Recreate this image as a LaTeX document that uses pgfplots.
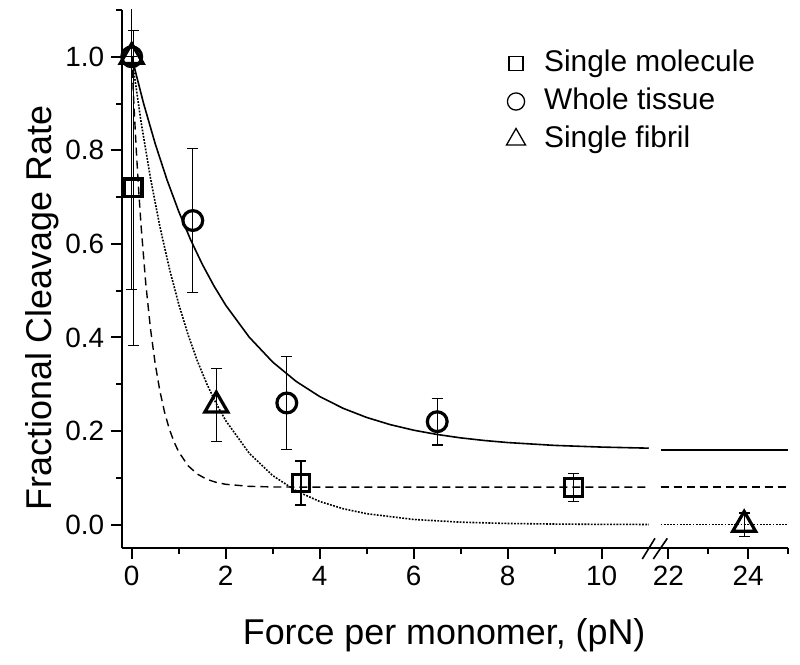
\documentclass[border=0pt]{standalone}
\usepackage{fontspec}
\setmainfont{Liberation Sans}
\usepackage{pgfplots}
\pgfplotsset{compat=1.18}
\usepackage{pgfplotstable}

\pgfplotstableread{
x y e
0.034 0.72 0.337
3.6 0.089 0.047
9.4 0.079 0.030
}\sqdata

\pgfplotstableread{
x y e
0 1.0 0.497
1.3 0.65 0.154
3.3 0.26 0.10
6.5 0.22 0.05
}\circdata

\pgfplotstableread{
x y e
0 1.0 0
1.8 0.255 0.078
}\tridataA

\pgfplotstableread{
x y e
23.9 0.0 0.025
}\tridataB

\pgfplotsset{
  basestyle/.style={
    scale only axis, height=269bp,
    ymin=-0.05, ymax=1.1,
    axis line style={line width=1bp},
    every tick/.style={line width=1bp, black},
    tick align=outside,
    major tick length=5.5bp, minor tick length=3bp,
    tick label style={font=\fontsize{14}{16}\selectfont},
    /pgf/number format/assume math mode=true,
    clip mode=individual,
  },
  errstyle/.style={
    only marks,
    error bars/y dir=both, error bars/y explicit,
    error bars/error bar style={line width=0.6bp, black},
    error bars/error mark options={rotate=90, mark size=2.75bp, line width=0.6bp, black},
  },
  sq/.style={mark=square, mark size=4.4bp, mark options={line width=1.6bp, fill=white, black}},
  ci/.style={mark=o, mark size=4.95bp, mark options={line width=1.6bp, fill=white, black}},
  tr/.style={mark=triangle, mark size=6.6bp, mark options={line width=1.6bp, fill=white, black}},
  fitsolid/.style={no marks, black, line width=0.8bp},
  fitdash/.style={no marks, black, line width=0.7bp, dash pattern=on 4bp off 2.5bp},
  fitdot/.style={no marks, black, line width=0.8bp, dash pattern=on 0.9bp off 0.7bp},
}

\begin{document}
\begin{tikzpicture}
\begin{axis}[
  basestyle, name=a1,
  width=269.1bp,
  xmin=-0.2, xmax=11.25,
  axis x line*=bottom, axis y line*=left,
  xtick={0,2,4,6,8,10},
  minor xtick={1,3,5,7,9},
  ytick={0,0.2,0.4,0.6,0.8,1.0},
  minor ytick={0.1,0.3,0.5,0.7,0.9,1.1},
  yticklabel style={/pgf/number format/fixed, /pgf/number format/fixed zerofill, /pgf/number format/precision=1},
  xlabel={Force per monomer, (pN)},
  ylabel={Fractional Cleavage Rate},
  label style={font=\fontsize{18}{21}\selectfont},
  xlabel style={at={(axis description cs:0.598,-0.162)}, anchor=center},
  ylabel style={at={(axis description cs:-0.149,0.446)}, anchor=center},
  legend style={draw=none, fill=none, at={(0.702,0.936)}, anchor=north west,
    font=\fontsize{15}{18}\selectfont,
    nodes={inner sep=0pt, text height=11.2bp, text depth=3.5bp},
    row sep=4.3bp},
  legend cell align=left,
  /tikz/every odd column/.append style={column sep=9.3bp},
]
\addlegendimage{only marks, mark=square, mark size=3.5bp, mark options={line width=0.65bp, black}}
\addlegendentry{Single molecule}
\addlegendimage{only marks, mark=o, mark size=4.3bp, mark options={line width=0.65bp, black}}
\addlegendentry{Whole tissue}
\addlegendimage{only marks, mark=triangle, mark size=5.5bp, mark options={line width=0.65bp, black}}
\addlegendentry{Single fibril}

\addplot[errstyle, sq, forget plot] table[x=x, y=y, y error=e] {\sqdata};
\addplot[errstyle, ci, forget plot] table[x=x, y=y, y error=e] {\circdata};
\addplot[errstyle, tr, forget plot] table[x=x, y=y, y error=e] {\tridataA};

% whole tissue fit
\addplot[fitsolid, forget plot] coordinates {
(0,1.0) (0.25,0.9013) (0.5,0.8142) (0.75,0.7373) (1.0,0.6695) (1.25,0.6096)
(1.5,0.5568) (1.75,0.5102) (2.0,0.469) (2.5,0.4007) (3.0,0.3474) (3.5,0.306)
(4.0,0.2737) (4.5,0.2485) (5.0,0.229) (5.5,0.2137) (6.0,0.2018) (6.5,0.1926)
(7.0,0.1854) (7.5,0.1798) (8.0,0.1754) (9.0,0.1693) (10.0,0.1657) (11.0,0.1634)
};
% single molecule fit
\addplot[fitdash, forget plot] coordinates {
(0,1.0) (0.05,0.8919) (0.1,0.7965) (0.15,0.7124) (0.2,0.638) (0.3,0.5146) (0.4,0.4184)
(0.5,0.3436) (0.6,0.2853) (0.7,0.2399) (0.8,0.2045) (0.9,0.177) (1.0,0.1555)
(1.2,0.1258) (1.4,0.1078) (1.6,0.0968) (1.8,0.0902) (2.0,0.0862) (2.5,0.0818)
(3.0,0.0805) (4.0,0.0800) (11.0,0.08)
};
% single fibril fit
\addplot[fitdot, forget plot] coordinates {
(0,1.0) (0.2,0.8604) (0.4,0.7402) (0.6,0.6369) (0.8,0.548) (1.0,0.4715)
(1.2,0.4057) (1.4,0.349) (1.6,0.3003) (1.8,0.2584) (2.0,0.2223) (2.5,0.1526)
(3.0,0.1048) (3.5,0.072) (4.0,0.0494) (4.5,0.0339) (5.0,0.0233) (6.0,0.011)
(7.0,0.0052) (8.0,0.0024) (9.0,0.0012) (10.0,0.0005) (11.0,0.0003)
};
\end{axis}

\begin{axis}[
  basestyle,
  width=63.75bp,
  at={(a1.south east)}, anchor=south west,
  xmin=21.8, xmax=25,
  axis x line*=bottom, axis y line=none,
  xtick={22,24}, minor xtick={23,25},
  ytick=\empty,
]
\addplot[errstyle, tr] table[x=x, y=y, y error=e] {\tridataB};
\addplot[fitsolid] coordinates {(21.8,0.16) (25,0.16)};
\addplot[fitdash] coordinates {(21.8,0.08) (25,0.08)};
\addplot[fitdot] coordinates {(21.8,0.0) (25,0.0)};
\end{axis}

% axis break marks
\draw[line width=0.8bp] (a1.south east) ++(-9.1bp,-5.5bp) -- ++(6.35bp,10.35bp);
\draw[line width=0.8bp] (a1.south east) ++(-3.6bp,-5.5bp) -- ++(7bp,10.35bp);

% page frame matching the reference proportions
\path (a1.south west) ++(-61.15bp,-58.5bp) rectangle ++(400bp,332.5bp);
\end{tikzpicture}
\end{document}
